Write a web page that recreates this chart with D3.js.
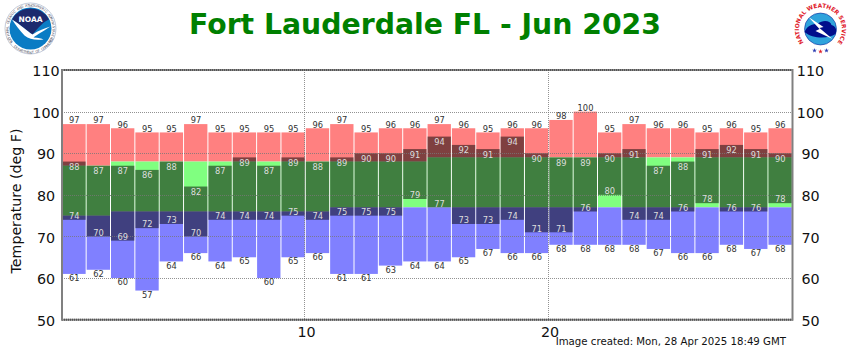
<!DOCTYPE html>
<html><head><meta charset="utf-8">
<script src="https://cdn.jsdelivr.net/npm/d3@7"></script>
<style>html,body{margin:0;padding:0;background:#fff}svg{display:block}text{font-family:"DejaVu Sans",Verdana,sans-serif}</style>
</head><body><div id="chart"></div>
<script>
const days=d3.range(1,31);
const recordHigh=[97,97,96,95,95,97,95,95,95,95,96,97,95,96,96,97,96,95,96,96,98,100,95,97,96,96,95,96,95,96];
const recordLow=[61,62,60,57,64,66,64,65,60,65,66,61,61,63,64,64,65,67,66,66,68,68,68,68,67,66,66,68,67,68];
const normalHigh=[87,87,88,88,88,88,88,88,88,88,88,88,88,88,88,89,89,89,89,89,89,89,89,89,89,89,89,89,89,89];
const normalLow=[75,75,76,76,76,76,76,76,76,76,76,77,77,77,77,77,77,77,77,77,77,77,77,77,77,77,77,77,77,77];
const obsHigh=[88,87,87,86,88,82,87,89,87,89,88,89,90,90,91,94,92,91,94,90,89,89,90,91,87,88,91,92,91,90];
const obsLow=[74,70,69,72,73,70,74,74,74,75,74,75,75,75,79,77,73,73,74,71,71,76,80,74,74,76,78,76,76,78];
const yTicks=[50,60,70,80,90,100,110];
const xTicks=[10,20];
const titleText="Fort Lauderdale FL - Jun 2023";
const yLabel="Temperature (deg F)";
const stamp="Image created: Mon, 28 Apr 2025 18:49 GMT";

const W=850,H=350;
const x=d3.scaleLinear().domain([0,30]).range([62,792.5]);
const y=d3.scaleLinear().domain([50,110]).range([319.7,70]);
const svg=d3.select("#chart").append("svg").attr("width",W).attr("height",H);

svg.append("text").attr("x",425).attr("y",34).attr("text-anchor","middle")
  .attr("font-size",28.3).attr("font-weight","bold").attr("fill","#008000").text(titleText);

// bars: record range, normal range, observed overlay
const g=svg.append("g");
const layer=(lo,hi,fill,op)=>g.append("g").selectAll("rect").data(days).join("rect")
  .attr("x",d=>x(d-1)+0.3).attr("width",d=>x(d)-x(d-1)-1)
  .attr("y",d=>y(hi[d-1])).attr("height",d=>y(lo[d-1])-y(hi[d-1]))
  .attr("fill",fill).attr("fill-opacity",op);
layer(normalHigh,recordHigh,"#ff8080",1);
layer(normalLow,normalHigh,"#80ff80",1);
layer(recordLow,normalLow,"#8080ff",1);
layer(obsLow,obsHigh,"#000",0.5);

// grid
const grid=svg.append("g").attr("stroke","#777").attr("stroke-opacity",.8).attr("stroke-dasharray","1,1").attr("fill","none");
grid.selectAll("line.h").data(yTicks.slice(1,-1)).join("line").attr("class","h")
  .attr("x1",x(0)).attr("x2",x(30)).attr("y1",d=>Math.round(y(d))+.5).attr("y2",d=>Math.round(y(d))+.5);
grid.selectAll("line.v").data(xTicks).join("line").attr("class","v")
  .attr("x1",d=>Math.round(x(d))-.5).attr("x2",d=>Math.round(x(d))-.5).attr("y1",y(110)).attr("y2",y(50));

// labels
const labels=svg.append("g").attr("font-size",8.3).attr("text-anchor","middle");
const lab=(arr,dy,fill)=>labels.append("g").selectAll("text").data(days).join("text")
  .attr("x",d=>x(d-.5)).attr("y",d=>y(arr[d-1])+dy).attr("fill",fill).text(d=>arr[d-1]);
lab(recordHigh,-0.7,"#333");
lab(recordLow,7.2,"#333");
lab(obsHigh,8.5,"#ddd");
lab(obsLow,-0.7,"#ddd");

// frame
const frame=svg.append("g").attr("fill","none");
[110,50].forEach(v=>{
  frame.append("line").attr("x1",x(0)).attr("x2",x(30)).attr("y1",y(v)).attr("y2",y(v)).attr("stroke","#888").attr("stroke-width",2);
  frame.append("line").attr("x1",x(0)).attr("x2",x(30)).attr("y1",y(v)).attr("y2",y(v)).attr("stroke","#555").attr("stroke-width",2).attr("stroke-dasharray","1,1");
});
[0,30].forEach(v=>frame.append("line").attr("x1",x(v)).attr("x2",x(v)).attr("y1",y(110)-1).attr("y2",y(50)+1).attr("stroke","#808080").attr("stroke-width",2));

// axes
const axL=d3.axisLeft(y).tickValues(yTicks).tickSize(0);
const axR=d3.axisRight(y).tickValues(yTicks).tickSize(0);
const axB=d3.axisBottom(x).tickValues(xTicks).tickSize(0).tickPadding(6);
[[axL,"translate(46,1)"],[axR,"translate(810.5,1)"],[axB,`translate(0.5,${y(50)+1})`]].forEach(([a,t])=>{
  const s=svg.append("g").attr("transform",t).call(a);
  s.select(".domain").remove();
  s.selectAll("text").attr("font-size",14.3).attr("fill","#111").attr("x",a===axB?0:null).attr("text-anchor","middle").style("font-family",'"DejaVu Sans"');
});
svg.append("text").attr("transform","translate(21,201) rotate(-90)").attr("text-anchor","middle")
  .attr("font-size",14.2).attr("fill","#111").text(yLabel);
svg.append("text").attr("x",786).attr("y",345).attr("text-anchor","end").attr("font-size",10.2).attr("fill","#111").text(stamp);

// NOAA logo
const noaa=svg.append("g").attr("transform","translate(30.5,28.5)");
noaa.append("circle").attr("r",25.5).attr("fill","#fff").attr("stroke","#9aa6c0").attr("stroke-width",.6);
const ringText=(str,mid,step,r,flip)=>{
  [...str].forEach((ch,i)=>{
    const a=mid+(i-(str.length-1)/2)*step*(flip?-1:1);
    const rad=(a-90)*Math.PI/180;
    noaa.append("text").attr("text-anchor","middle").attr("font-size",3.4).attr("fill","#556")
      .attr("transform",`translate(${r*Math.cos(rad)},${r*Math.sin(rad)}) rotate(${flip?a-180:a})`).text(ch);
  });
};
ringText("NATIONAL OCEANIC AND ATMOSPHERIC ADMINISTRATION",0,5.4,22,false);
ringText("U.S. DEPARTMENT OF COMMERCE",180,5,25,true);
noaa.append("circle").attr("r",21).attr("fill","#0a7cc4");
noaa.append("path").attr("d","M-18.5,-9 A21,21 0 0 1 18.5,-9 C13,-7 8,-1 2,6 C-3,3 -10,-4 -18.5,-9Z").attr("fill","#1c2a6e");
noaa.append("path").attr("d","M-18.5,-9 C-10,-4 -3,3 2,6 C8,2 14,0 20,-2 C12,3 7,6 3,9 C8,9 11,10 13,11 C5,12 -1,11 -6,7 C-11,2 -15,-4 -18.5,-9Z").attr("fill","#fff");
noaa.append("text").attr("y",-6.5).attr("text-anchor","middle").attr("font-size",7.5).attr("font-weight","bold").attr("fill","#fff").text("NOAA");

// NWS logo
const nws=svg.append("g").attr("transform","translate(820.5,29)");
nws.append("circle").attr("r",16).attr("fill","#2fa3dc").attr("stroke","#000e8c").attr("stroke-width",.5);
nws.append("path").attr("d","M-16,3 C-13,-4 -8,-5 -3,-5 C3,-10 10,-8 11,-4 C15,-3 17,1 15,5 C8,10 -8,10 -16,3Z").attr("fill","#000e8c");
nws.append("path").attr("d","M-12,-12 L3,-2 L-1,-1 L12,10 L-5,2 L-1,0Z").attr("fill","#fff");
nws.append("path").attr("id","nwsArc").attr("d","M-15.5,15 A21.5,21.5 0 1 1 15.5,15").attr("fill","none");
nws.append("text").attr("font-size",5.8).attr("font-weight","bold").attr("fill","#e0202a")
  .append("textPath").attr("href","#nwsArc").attr("startOffset","50%").attr("text-anchor","middle").text("NATIONAL WEATHER SERVICE");
[[-6,21.5,"#2a3ab0"],[0,22.5,"#e0202a"],[6,21.5,"#2a3ab0"]].forEach(([sx,sy,c])=>
  nws.append("path").attr("transform",`translate(${sx},${sy})`).attr("d",d3.symbol(d3.symbolStar,7)()).attr("fill",c));
</script></body></html>
